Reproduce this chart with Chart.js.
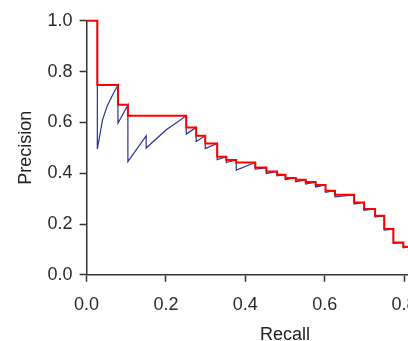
<!DOCTYPE html>
<html>
<head>
<meta charset="utf-8">
<script src="https://cdn.jsdelivr.net/npm/chart.js@4.4.1/dist/chart.umd.min.js"></script>
<style>
  html, body { margin: 0; padding: 0; background: #fff; overflow: hidden; }
  #wrap { width: 408px; height: 341px; overflow: hidden; }
  #prChart { position: relative; top: 3px; }
</style>
</head>
<body>
<div id="wrap"><canvas id="prChart" width="508" height="343"></canvas></div>
<script>
// Interpolated precision (red): level i holds from stepRecall[i] to stepRecall[i+1]
const stepRecall = [0, 0.027, 0.079, 0.104, 0.251, 0.276, 0.299, 0.329, 0.352, 0.377, 0.425, 0.453,
  0.480, 0.501, 0.527, 0.552, 0.577, 0.602, 0.626, 0.674, 0.699, 0.727, 0.750, 0.773, 0.798, 0.81];
const stepPrecision = [1.0, 0.747, 0.669, 0.626, 0.580, 0.547, 0.517, 0.465, 0.452, 0.442, 0.422, 0.407,
  0.394, 0.381, 0.374, 0.365, 0.354, 0.331, 0.315, 0.285, 0.259, 0.232, 0.180, 0.127, 0.110];

// Raw precision (blue sawtooth)
const rawRecall = [0.027, 0.027, 0.040, 0.052, 0.066, 0.079, 0.079, 0.104, 0.104, 0.150, 0.150, 0.200, 0.251,
  0.251, 0.276, 0.276, 0.299, 0.299, 0.329, 0.329, 0.352, 0.352, 0.377, 0.377, 0.425, 0.425, 0.453,
  0.453, 0.480, 0.480, 0.501, 0.501, 0.527, 0.527, 0.552, 0.552, 0.577, 0.577, 0.602, 0.602, 0.626,
  0.626, 0.674, 0.674, 0.699, 0.699, 0.727, 0.727, 0.750, 0.750, 0.773, 0.773, 0.798, 0.798, 0.81];
const rawPrecision = [1.0, 0.495, 0.610, 0.665, 0.710, 0.747, 0.597, 0.669, 0.446, 0.547, 0.499, 0.570, 0.626,
  0.554, 0.580, 0.525, 0.547, 0.497, 0.517, 0.453, 0.465, 0.442, 0.452, 0.412, 0.442, 0.416, 0.422,
  0.399, 0.407, 0.390, 0.394, 0.375, 0.381, 0.366, 0.374, 0.357, 0.365, 0.346, 0.354, 0.325, 0.331,
  0.307, 0.315, 0.279, 0.285, 0.254, 0.259, 0.228, 0.232, 0.176, 0.180, 0.124, 0.127, 0.106, 0.110];

const axisTicks = [0, 0.2, 0.4, 0.6, 0.8, 1.0];

// build step outline from the levels
const stepPoints = [];
for (let i = 0; i < stepPrecision.length; i++) {
  stepPoints.push({ x: stepRecall[i], y: stepPrecision[i] });
  stepPoints.push({ x: stepRecall[i + 1], y: stepPrecision[i] });
}
const rawPoints = rawRecall.map((r, i) => ({ x: r, y: rawPrecision[i] }));

const axisColor = '#333333';
const font = { family: '"Liberation Sans", Arial, sans-serif', size: 18 };

function axisOptions(title, tickPadding, titlePadding) {
  return {
    type: 'linear',
    min: 0,
    max: 1,
    afterBuildTicks: (scale) => { scale.ticks = axisTicks.map(v => ({ value: v })); },
    ticks: {
      color: '#2a2a2a',
      font: font,
      padding: tickPadding,
      callback: (v) => Number(v).toFixed(1)
    },
    grid: {
      drawOnChartArea: false,
      drawTicks: true,
      tickLength: 7,
      tickWidth: 1.5,
      tickColor: axisColor
    },
    border: { display: true, color: axisColor, width: 1.5 },
    title: { display: true, text: title, color: '#222', font: font, padding: titlePadding }
  };
}

new Chart(document.getElementById('prChart').getContext('2d'), {
  type: 'line',
  data: {
    datasets: [
      {
        label: 'Interpolated',
        data: stepPoints,
        borderColor: '#ff0000',
        borderWidth: 2,
        pointRadius: 0,
        tension: 0,
        fill: false,
        clip: false
      },
      {
        label: 'Raw',
        data: rawPoints,
        borderColor: '#2e3192',
        borderWidth: 1.2,
        pointRadius: 0,
        tension: 0,
        fill: false,
        clip: false
      }
    ]
  },
  options: {
    responsive: false,
    animation: false,
    devicePixelRatio: 1,
    layout: { padding: { left: 11, right: 0, top: 0, bottom: -7 } },
    plugins: { legend: { display: false }, tooltip: { enabled: false } },
    scales: {
      x: axisOptions('Recall', 12, { top: -3, bottom: 7 }),
      y: axisOptions('Precision', 7, { top: 4, bottom: 4 })
    }
  }
});
</script>
</body>
</html>
